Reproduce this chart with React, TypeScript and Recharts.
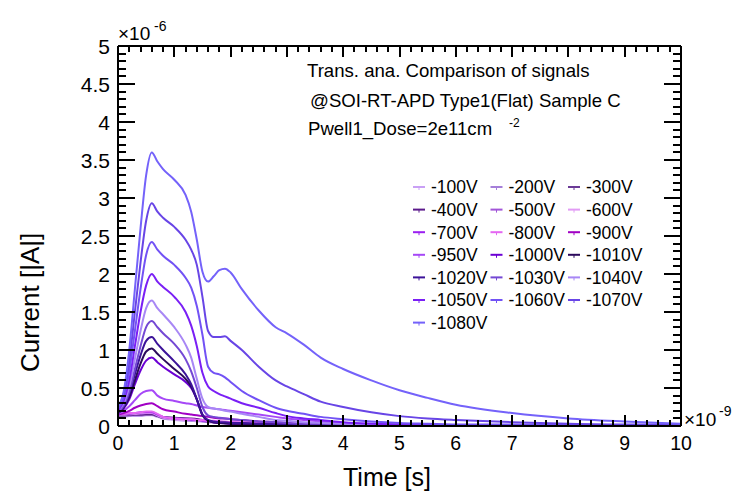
import { LineChart, Line, XAxis, YAxis } from 'recharts'

// time in ns (axis shows x10^-9), current in uA (axis shows x10^-6)
const times = [0, 0.1, 0.2, 0.3, 0.4, 0.5, 0.6, 0.7, 0.8, 1.0, 1.2, 1.3, 1.4, 1.5, 1.6, 1.7, 1.8, 1.9, 2.0, 2.2, 2.5, 2.8, 3.0, 3.3, 3.6, 4.0, 4.5, 5.0, 5.5, 6.0, 7.0, 8.0, 9.0, 10.0]

const v100 = [0.12, 0.12, 0.13, 0.13, 0.13, 0.14, 0.14, 0.12, 0.1, 0.08, 0.07, 0.07, 0.06, 0.06, 0.05, 0.05, 0.04, 0.04, 0.03, 0.03, 0.02, 0.02, 0.01, 0.01, 0.01, 0, 0, 0, 0, 0, 0, 0, 0, 0]
const v200 = [0.13, 0.13, 0.14, 0.14, 0.14, 0.15, 0.15, 0.13, 0.1, 0.09, 0.08, 0.07, 0.07, 0.06, 0.05, 0.05, 0.04, 0.04, 0.03, 0.03, 0.02, 0.02, 0.01, 0.01, 0.01, 0.01, 0, 0, 0, 0, 0, 0, 0, 0]
const v300 = [0.14, 0.14, 0.14, 0.15, 0.15, 0.15, 0.15, 0.13, 0.11, 0.1, 0.1, 0.09, 0.09, 0.07, 0.06, 0.05, 0.04, 0.03, 0.03, 0.02, 0.02, 0.01, 0.01, 0.01, 0.01, 0, 0, 0, 0, 0, 0, 0, 0, 0]
const v400 = [0.14, 0.14, 0.15, 0.15, 0.15, 0.16, 0.16, 0.14, 0.12, 0.11, 0.1, 0.1, 0.09, 0.08, 0.06, 0.05, 0.04, 0.04, 0.03, 0.03, 0.02, 0.02, 0.01, 0.01, 0.01, 0.01, 0, 0, 0, 0, 0, 0, 0, 0]
const v500 = [0.15, 0.15, 0.15, 0.16, 0.16, 0.17, 0.17, 0.14, 0.11, 0.1, 0.09, 0.09, 0.08, 0.07, 0.06, 0.05, 0.05, 0.04, 0.04, 0.03, 0.03, 0.02, 0.02, 0.01, 0.01, 0.01, 0, 0, 0, 0, 0, 0, 0, 0]
const v600 = [0.15, 0.15, 0.16, 0.16, 0.17, 0.17, 0.17, 0.14, 0.11, 0.09, 0.08, 0.08, 0.07, 0.07, 0.06, 0.06, 0.05, 0.05, 0.05, 0.04, 0.03, 0.03, 0.02, 0.02, 0.01, 0.01, 0.01, 0, 0, 0, 0, 0, 0, 0]
const v700 = [0.16, 0.16, 0.16, 0.17, 0.18, 0.18, 0.18, 0.15, 0.12, 0.1, 0.09, 0.08, 0.08, 0.07, 0.07, 0.06, 0.06, 0.05, 0.05, 0.04, 0.03, 0.03, 0.02, 0.02, 0.01, 0.01, 0.01, 0, 0, 0, 0, 0, 0, 0]
const v800 = [0.16, 0.16, 0.17, 0.17, 0.18, 0.19, 0.19, 0.16, 0.12, 0.1, 0.09, 0.09, 0.08, 0.08, 0.07, 0.07, 0.06, 0.06, 0.05, 0.05, 0.04, 0.03, 0.03, 0.02, 0.02, 0.01, 0.01, 0.01, 0, 0, 0, 0, 0, 0]
const v900 = [0.15, 0.17, 0.2, 0.24, 0.27, 0.29, 0.3, 0.26, 0.22, 0.19, 0.16, 0.15, 0.14, 0.13, 0.12, 0.11, 0.1, 0.1, 0.09, 0.08, 0.06, 0.05, 0.04, 0.03, 0.03, 0.02, 0.01, 0.01, 0, 0, 0, 0, 0, 0]
const v950 = [0.16, 0.2, 0.26, 0.34, 0.42, 0.46, 0.47, 0.4, 0.36, 0.33, 0.3, 0.29, 0.27, 0.25, 0.24, 0.23, 0.22, 0.21, 0.2, 0.18, 0.15, 0.12, 0.1, 0.08, 0.06, 0.04, 0.03, 0.02, 0.01, 0.01, 0, 0, 0, 0]
const v1000 = [0.17, 0.23, 0.35, 0.55, 0.73, 0.86, 0.9, 0.84, 0.78, 0.68, 0.58, 0.5, 0.35, 0.15, 0.07, 0.05, 0.04, 0.04, 0.03, 0.03, 0.02, 0.02, 0.01, 0.01, 0.01, 0, 0, 0, 0, 0, 0, 0, 0, 0]
const v1010 = [0.17, 0.24, 0.38, 0.6, 0.82, 0.98, 1.02, 0.95, 0.88, 0.75, 0.62, 0.52, 0.35, 0.14, 0.07, 0.05, 0.04, 0.04, 0.03, 0.03, 0.02, 0.02, 0.01, 0.01, 0.01, 0, 0, 0, 0, 0, 0, 0, 0, 0]
const v1020 = [0.18, 0.25, 0.42, 0.68, 0.93, 1.12, 1.17, 1.08, 1.0, 0.85, 0.68, 0.55, 0.35, 0.15, 0.08, 0.06, 0.05, 0.05, 0.04, 0.04, 0.03, 0.02, 0.02, 0.01, 0.01, 0.01, 0, 0, 0, 0, 0, 0, 0, 0]
const v1030 = [0.18, 0.27, 0.45, 0.75, 1.05, 1.3, 1.38, 1.3, 1.22, 1.08, 0.88, 0.72, 0.5, 0.25, 0.14, 0.12, 0.11, 0.1, 0.09, 0.08, 0.06, 0.05, 0.04, 0.03, 0.03, 0.02, 0.01, 0.01, 0, 0, 0, 0, 0, 0]
const v1040 = [0.2, 0.3, 0.52, 0.88, 1.25, 1.55, 1.65, 1.55, 1.47, 1.3, 1.07, 0.9, 0.62, 0.36, 0.25, 0.23, 0.22, 0.2, 0.19, 0.16, 0.12, 0.08, 0.07, 0.05, 0.04, 0.03, 0.02, 0.01, 0.01, 0.01, 0, 0, 0, 0]
const v1050 = [0.2, 0.33, 0.6, 1.05, 1.5, 1.85, 2.0, 1.9, 1.83, 1.7, 1.5, 1.32, 1.05, 0.7, 0.52, 0.46, 0.42, 0.39, 0.36, 0.3, 0.24, 0.17, 0.13, 0.1, 0.08, 0.05, 0.03, 0.02, 0.02, 0.01, 0.01, 0.01, 0, 0]
const v1060 = [0.22, 0.38, 0.72, 1.25, 1.8, 2.25, 2.42, 2.32, 2.24, 2.12, 1.95, 1.82, 1.58, 1.2, 0.78, 0.7, 0.68, 0.64, 0.58, 0.46, 0.34, 0.24, 0.2, 0.16, 0.12, 0.09, 0.06, 0.04, 0.03, 0.02, 0.02, 0.01, 0.01, 0.01]
const v1070 = [0.25, 0.42, 0.85, 1.5, 2.15, 2.7, 2.93, 2.82, 2.74, 2.62, 2.45, 2.32, 2.12, 1.7, 1.25, 1.17, 1.17, 1.18, 1.12, 1.0, 0.78, 0.6, 0.52, 0.42, 0.32, 0.25, 0.18, 0.13, 0.1, 0.08, 0.05, 0.03, 0.02, 0.02]
const v1080 = [0.25, 0.45, 1.0, 1.8, 2.6, 3.3, 3.6, 3.48, 3.38, 3.24, 3.04, 2.82, 2.45, 2.03, 1.9, 1.97, 2.05, 2.07, 2.02, 1.8, 1.52, 1.3, 1.22, 1.07, 0.9, 0.75, 0.6, 0.47, 0.37, 0.28, 0.17, 0.1, 0.06, 0.03]

const seriesNames = ['-100V', '-200V', '-300V', '-400V', '-500V', '-600V', '-700V', '-800V', '-900V', '-950V', '-1000V', '-1010V', '-1020V', '-1030V', '-1040V', '-1050V', '-1060V', '-1070V', '-1080V']
const seriesValues = [v100, v200, v300, v400, v500, v600, v700, v800, v900, v950, v1000, v1010, v1020, v1030, v1040, v1050, v1060, v1070, v1080]
const seriesColors = ['#c9a0f5', '#a57fd9', '#6b3a96', '#5c1a8c', '#a255d8', '#e29cf5', '#9b1ff0', '#e466f2', '#a100c4', '#a648f7', '#6c00d4', '#2c0a5c', '#3c1399', '#7448d4', '#a887f5', '#7a1ff5', '#7252f5', '#6845e6', '#7462fa']

const xMajor = [0, 1, 2, 3, 4, 5, 6, 7, 8, 9, 10]
const xLabels = ['0', '1', '2', '3', '4', '5', '6', '7', '8', '9', '10']
const yMajor = [0, 0.5, 1, 1.5, 2, 2.5, 3, 3.5, 4, 4.5, 5]
const yLabels = ['0', '0.5', '1', '1.5', '2', '2.5', '3', '3.5', '4', '4.5', '5']
const xMinorStep = 0.2
const yMinorStep = 0.1

const data = times.map((t, i) => {
  const row: Record<string, number> = { t }
  seriesNames.forEach((n, k) => { row[n] = seriesValues[k][i] })
  return row
})

const steps = (max: number, step: number) =>
  Array.from({ length: Math.round(max / step) + 1 }, (_, i) => +(i * step).toFixed(2))
const xTicks = steps(10, xMinorStep)
const yTicks = steps(5, yMinorStep)

const FONT = '"Liberation Sans", Arial, Helvetica, sans-serif'
const W = 738
const H = 494
// each axis takes 1px, so the plot frame ends up at 118..681 x 46..426
const M = { top: 45, right: 56, bottom: 67, left: 117 }
const PL = M.left + 1
const PR = W - M.right - 1
const PT = M.top + 1
const PB = H - M.bottom - 1
const xPx = (v: number) => Math.round(PL + (v / 10) * (PR - PL))
const yPx = (v: number) => Math.round(PB - (v / 5) * (PB - PT))

const isMajor = (majors: number[], v: number) => majors.some(m => Math.abs(m - v) < 1e-6)
const labelOf = (majors: number[], labels: string[], v: number) => {
  const i = majors.findIndex(m => Math.abs(m - v) < 1e-6)
  return i >= 0 ? labels[i] : null
}

function BottomLabel(props: any) {
  const lab = labelOf(xMajor, xLabels, props.payload.value)
  if (!lab) return <g />
  return <text x={props.x} y={Number(props.y) + 24} textAnchor="middle" fontSize={19.5} fontFamily={FONT} fill="#000">{lab}</text>
}

function LeftLabel(props: any) {
  const lab = labelOf(yMajor, yLabels, props.payload.value)
  if (!lab) return <g />
  return <text x={Number(props.x) - 8} y={Number(props.y) + 7.5} textAnchor="end" fontSize={21} fontFamily={FONT} fill="#000">{lab}</text>
}

const frameLine = { stroke: '#000', strokeWidth: 2 }

// tick marks as thin filled rectangles pointing into the frame
const tickRects: { x: number; y: number; w: number; h: number }[] = []
xTicks.forEach(v => {
  const x = xPx(v)
  const len = isMajor(xMajor, v) ? 11 : 6
  tickRects.push({ x: x - 1, y: PB - len, w: 2, h: len })
  tickRects.push({ x: x - 1, y: PT, w: 2, h: len })
})
yTicks.forEach(v => {
  const y = yPx(v)
  const len = isMajor(yMajor, v) ? 17 : 8
  tickRects.push({ x: PL, y: y - 1, w: len, h: 2 })
  tickRects.push({ x: PR - len, y: y - 1, w: len, h: 2 })
})

export default function App() {
  return (
    <div style={{ position: 'absolute', left: 0, top: 0, width: W, height: H, background: '#fff' }}>
      <LineChart width={W} height={H} data={data} margin={M}>
        <XAxis dataKey="t" type="number" domain={[0, 10]} ticks={xTicks} interval={0} height={1}
          tickSize={0} tickMargin={0} tickLine={false} axisLine={frameLine} tick={(p: any) => <BottomLabel {...p} />} />
        <XAxis xAxisId="top" orientation="top" dataKey="t" type="number" domain={[0, 10]} allowDataOverflow height={1}
          tickLine={false} tick={false} axisLine={frameLine} />
        <YAxis type="number" domain={[0, 5]} ticks={yTicks} interval={0} width={1}
          tickSize={0} tickMargin={0} tickLine={false} axisLine={frameLine} tick={(p: any) => <LeftLabel {...p} />} />
        <YAxis yAxisId="right" orientation="right" type="number" domain={[0, 5]} allowDataOverflow width={1}
          tickLine={false} tick={false} axisLine={frameLine} />
        {seriesNames.map((n, k) => (
          <Line key={n} dataKey={n} type="monotone" stroke={seriesColors[k]} strokeWidth={2}
            dot={false} activeDot={false} isAnimationActive={false} />
        ))}
      </LineChart>
      <svg width={W} height={H} style={{ position: 'absolute', left: 0, top: 0, pointerEvents: 'none' }} fontFamily={FONT}>
        {tickRects.map((r, i) => (
          <rect key={i} x={r.x} y={r.y} width={r.w} height={r.h} fill="#000" />
        ))}
        <text x={118} y={40} fontSize={19}>×10</text>
        <text x={154} y={31} fontSize={14}>-6</text>
        <text x={684} y={426} fontSize={19}>×10</text>
        <text x={719} y={416} fontSize={14}>-9</text>
        <text x={343} y={486} fontSize={25}>Time [s]</text>
        <text transform="translate(39,372) rotate(-90)" fontSize={26}>Current [|A|]</text>
        <text x={307} y={77} fontSize={18.6}>Trans. ana. Comparison of signals</text>
        <text x={310} y={107} fontSize={18.6}>@SOI-RT-APD Type1(Flat) Sample C</text>
        <text x={308} y={135} fontSize={18.6}>Pwell1_Dose=2e11cm</text>
        <text x={509} y={127} fontSize={12}>-2</text>
        {seriesNames.map((n, i) => {
          const lx = 413 + (i % 3) * 77.5
          const ly = 187 + Math.floor(i / 3) * 22.6
          return (
            <g key={n}>
              <line x1={lx} x2={lx + 12} y1={ly} y2={ly} stroke={seriesColors[i]} strokeWidth={2} />
              <line x1={lx + 6} x2={lx + 6} y1={ly} y2={ly + 3} stroke={seriesColors[i]} strokeWidth={1} />
              <text x={lx + 18} y={ly + 6.3} fontSize={17.5}>{n}</text>
            </g>
          )
        })}
      </svg>
    </div>
  )
}
